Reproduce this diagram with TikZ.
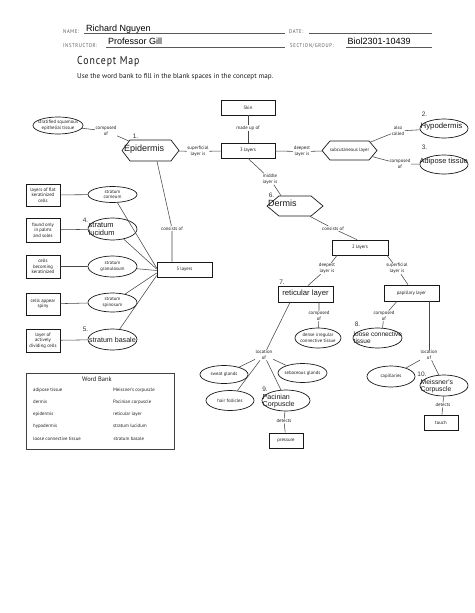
\documentclass[tikz,border=0pt]{standalone}
\usepackage{fontspec}
\setmainfont{PT Sans}
\newfontfamily\ansfont{Liberation Sans}
\newfontfamily\hdrfont[LetterSpace=12,FakeStretch=0.85]{PT Sans}
\newfontfamily\titlefont[LetterSpace=8,FakeStretch=0.85]{PT Sans}
\usetikzlibrary{shapes.geometric,shapes.symbols,calc}
\begin{document}
\begin{tikzpicture}[x=1pt,y=-1pt,
  lbl/.style={font=\fontsize{4.8}{5.6}\selectfont, text=black!88, align=center, inner sep=0.6pt},
  bx/.style={draw=black!90, line width=0.7pt, font=\fontsize{4.8}{5.6}\selectfont, text=black!90, align=center, inner sep=0.5pt},
  ell/.style={ellipse, draw=black!90, line width=0.7pt, inner sep=0pt},
  hexa/.style={signal, signal to=west and east, draw=black!90, line width=0.7pt, inner sep=0pt},
  ans/.style={font=\ansfont\fontsize{7.2}{7.6}\selectfont, inner sep=0pt, align=left, text=black!90},
  num/.style={font=\ansfont\fontsize{6.5}{7}\selectfont, inner sep=0pt, text=black!80},
  hdr/.style={font=\hdrfont\fontsize{5.5}{6}\selectfont, text=black!65, inner sep=0pt, anchor=base west},
  typed/.style={font=\ansfont\fontsize{9}{10}\selectfont, inner sep=0pt, anchor=base west},
  cn/.style={draw=black!72, line width=0.55pt},
  wbt/.style={font=\fontsize{4.8}{5.6}\selectfont, text=black!88, inner sep=0pt, anchor=base west}
]
\useasboundingbox (0,0) rectangle (474,613);
\fill[white] (0,0) rectangle (474,613);

% ---------- header ----------
\node[hdr] (hname) at (63,33.5) {NAME:};
\node[typed] (tname) at (86,31.5) {Richard Nguyen};
\draw[black!65,line width=0.5pt] (84,33.7) -- (285,33.7);
\node[hdr] (hdate) at (289,33.5) {DATE:};
\draw[black!65,line width=0.5pt] (309,33.7) -- (432,33.7);
\node[hdr] (hinst) at (63,47) {INSTRUCTOR:};
\node[typed] (tinst) at (108,44.5) {Professor Gill};
\draw[black!65,line width=0.5pt] (106,47.3) -- (285,47.3);
\node[hdr] (hsect) at (290,47) {SECTION/GROUP:};
\node[typed] (tsect) at (347.5,44.5) {Biol2301-10439};
\draw[black!65,line width=0.5pt] (346,47.3) -- (432,47.3);
\node[font=\titlefont\fontsize{11.5}{12}\selectfont, text=black!90, inner sep=0pt, anchor=base west] (title) at (77,64.5) {Concept Map};
\node[font=\fontsize{7.1}{8}\selectfont, text=black!90, inner sep=0pt, anchor=base west] (instr) at (77,78.5) {Use the word bank to fill in the blank spaces in the concept map.};

% ---------- top centre ----------
\node[bx, minimum width=54pt, minimum height=15pt] (skin) at (248,107.5) {Skin};
\node[lbl] (madeup) at (248,128) {made up of};
\node[bx, minimum width=54pt, minimum height=15pt] (lay3) at (248,150.5) {3 layers};

% ---------- epidermis ----------
\node[ell, minimum width=50pt, minimum height=17pt] (strat) at (58,125.5) {};
\node[lbl] (stratT) at (strat) {stratified squamous\\epithelial tissue};
\node[lbl] (compEpi) at (106,131) {composed\\of};
\node[hexa, signal pointer angle=105, minimum width=57pt, minimum height=21pt] (epi) at (150.5,150.5) {};
\node[ans, font=\ansfont\fontsize{9}{9.5}\selectfont, anchor=base west] (epiT) at (124,151) {Epidermis};
\node[num] (n1) at (135.5,136) {1.};
\node[lbl] (superf) at (198,151.5) {superficial\\layer is};

% ---------- subcutaneous ----------
\node[lbl] (deep) at (302,151.5) {deepest\\layer is};
\node[hexa, signal pointer angle=100, minimum width=55pt, minimum height=19pt] (subq) at (349.5,150.5) {};
\node[lbl] (subqT) at (subq) {subcutaneous layer};
\node[lbl] (also) at (398,131) {also\\called};
\node[ell, minimum width=48pt, minimum height=19pt] (hypo) at (444,128.5) {};
\node[ans, font=\ansfont\fontsize{7.8}{8}\selectfont, anchor=base west] (hypoT) at (420.5,128.3) {Hypodermis};
\node[num] (n2) at (424.5,114.5) {2.};
\node[lbl] (compAd) at (400,164) {composed\\of};
\node[ell, minimum width=48pt, minimum height=19pt] (adip) at (444,164.5) {};
\node[ans, font=\ansfont\fontsize{7.4}{8}\selectfont, anchor=base west] (adipT) at (419.5,163.3) {Adipose tissue};
\node[num] (n3) at (424.5,147.5) {3.};

% ---------- dermis ----------
\node[lbl] (middle) at (270,179) {middle\\layer is};
\node[hexa, signal pointer angle=80, minimum width=56pt, minimum height=20pt] (derm) at (295,206) {};
\node[ans, font=\ansfont\fontsize{9}{9.5}\selectfont, anchor=base west] (dermT) at (268,206.5) {Dermis};
\node[num] (n6) at (271.5,195) {6.};
\node[lbl] (consD) at (333,228.5) {consists of};
\node[bx, minimum width=56pt, minimum height=15pt] (lay2) at (360,247.5) {2 layers};
\node[lbl] (deep2) at (327,268.5) {deepest\\layer is};
\node[lbl] (sup2) at (397,268.5) {superficial\\layer is};
\node[bx, line width=0.9pt, minimum width=55pt, minimum height=16pt, font=\ansfont\fontsize{7.7}{8}\selectfont] (ret) at (305.5,294) {reticular layer};
\node[num] (n7) at (282,282.5) {7.};
\node[bx, minimum width=55pt, minimum height=16pt] (pap) at (411.5,293) {papillary layer};
\node[lbl] (compR) at (319,316) {composed\\of};
\node[lbl] (compP) at (384,316) {composed\\of};
\node[ell, minimum width=46pt, minimum height=20pt] (dense) at (318,338) {};
\node[lbl] (denseT) at (dense) {dense irregular\\connective tissue};
\node[ell, minimum width=49pt, minimum height=20pt] (loose) at (377.5,338) {};
\node[ans, font=\ansfont\fontsize{6.5}{6.8}\selectfont, anchor=west] (looseT) at (353.5,337.5) {loose connective\\tissue};
\node[num] (n8) at (357.5,324.5) {8.};

% ---------- reticular branch ----------
\node[lbl] (locL) at (264,355) {location\\of};
\node[ell, minimum width=48pt, minimum height=18pt] (sweat) at (224,374.5) {};
\node[lbl] (sweatT) at (sweat) {sweat glands};
\node[ell, minimum width=49pt, minimum height=19pt] (seb) at (302.5,373) {};
\node[lbl] (sebT) at (seb) {sebaceous glands};
\node[ell, minimum width=48pt, minimum height=20pt] (hair) at (230,400.5) {};
\node[lbl] (hairT) at (hair) {hair follicles};
\node[ell, minimum width=48pt, minimum height=21pt] (pac) at (286,400.5) {};
\node[ans, font=\ansfont\fontsize{7.1}{7.6}\selectfont, anchor=west] (pacT) at (262.5,401) {Pacinian\\Corpuscle};
\node[num] (n9) at (265,389.5) {9.};
\node[lbl] (detP) at (284,421) {detects};
\node[bx, minimum width=34pt, minimum height=15pt] (press) at (286,440.5) {pressure};

% ---------- papillary branch ----------
\node[lbl] (locR) at (429,355) {location\\of};
\node[ell, minimum width=48pt, minimum height=21pt] (capil) at (391,376.5) {};
\node[lbl] (capilT) at (capil) {capillaries};
\node[ell, minimum width=48pt, minimum height=21pt] (meis) at (444,385.5) {};
\node[ans, font=\ansfont\fontsize{6.8}{7.3}\selectfont, anchor=west] (meisT) at (420.5,386) {Meissner's\\Corpuscle};
\node[num] (n10) at (422,374.5) {10.};
\node[lbl] (detM) at (443,405) {detects};
\node[bx, minimum width=34pt, minimum height=15pt] (touch) at (441,422.5) {touch};

% ---------- epidermis layers ----------
\node[lbl] (consE) at (172,228.5) {consists of};
\node[bx, minimum width=55pt, minimum height=15pt] (lay5) at (184.5,269.5) {5 layers};

\node[ell, minimum width=49pt, minimum height=16pt] (corn) at (112.5,194.5) {};
\node[lbl] (cornT) at (corn) {stratum\\corneum};
\node[ell, minimum width=49pt, minimum height=22pt] (lucid) at (112.5,229) {};
\node[ans, font=\ansfont\fontsize{7.5}{7.8}\selectfont, anchor=west] (lucidT) at (88.5,229) {stratum\\lucidum};
\node[num] (n4) at (85.5,220.5) {4.};
\node[ell, minimum width=49pt, minimum height=21pt] (gran) at (112.5,266.5) {};
\node[lbl] (granT) at (gran) {stratum\\granulosum};
\node[ell, minimum width=49pt, minimum height=19pt] (spin) at (112.5,302.5) {};
\node[lbl] (spinT) at (spin) {stratum\\spinosum};
\node[ell, minimum width=49pt, minimum height=21pt] (basal) at (112.5,339.5) {};
\node[ans, font=\ansfont\fontsize{7.1}{7.5}\selectfont, anchor=west] (basalT) at (89,339.5) {stratum basale};
\node[num] (n5) at (85.5,329.5) {5.};

\node[bx, minimum width=34pt, minimum height=22pt] (flat) at (43,195) {layers of flat\\keratinized\\cells};
\node[bx, minimum width=34pt, minimum height=24pt] (palms) at (43,230) {found only\\in palms\\and soles};
\node[bx, minimum width=34pt, minimum height=23pt] (kerat) at (43,266.5) {cells\\becoming\\keratinized};
\node[bx, minimum width=34pt, minimum height=22pt] (spiny) at (43,304) {cells appear\\spiny};
\node[bx, minimum width=34pt, minimum height=23pt] (divid) at (43,340.5) {layer of\\actively\\dividing cells};

% ---------- word bank ----------
\node[draw=black!75, line width=0.9pt, minimum width=148pt, minimum height=76pt, inner sep=0pt] (wb) at (100,411) {};
\node[font=\fontsize{6.5}{7}\selectfont, text=black!90, inner sep=0pt] (wbtitle) at (97,379.5) {Word Bank};
\node[wbt] (w1) at (33,391) {adipose tissue};
\node[wbt] (w2) at (33,403.3) {dermis};
\node[wbt] (w3) at (33,415) {epidermis};
\node[wbt] (w4) at (33,427.5) {hypodermis};
\node[wbt] (w5) at (33,440) {loose connective tissue};
\node[wbt] (w6) at (113,391) {Meissner's corpuscle};
\node[wbt] (w7) at (113,403.3) {Pacinian corpuscle};
\node[wbt] (w8) at (113,415) {reticular layer};
\node[wbt] (w9) at (113,427.5) {stratum lucidum};
\node[wbt] (w10) at (113.5,440) {stratum basale};

% ---------- connectors ----------
\path[cn] (skin) -- (madeup) (madeup) -- (lay3);
\path[cn] (strat) -- (compEpi) (compEpi) -- (epi);
\path[cn] (epi) -- (superf) (superf) -- (lay3);
\path[cn] (lay3) -- (deep) (deep) -- (subq);
\path[cn] (subq) -- (also) (also) -- (hypo);
\path[cn] (subq) -- (compAd) (compAd) -- (adip);
\path[cn] (lay3.south) -- (middle) (middle) -- ([xshift=-14pt]derm.north);
\path[cn] ([xshift=15pt]derm.south) -- (consD) (consD) -- ([xshift=-3pt]lay2.north);
\path[cn] ([xshift=-23pt]lay2.south) -- (deep2) (deep2) -- ([xshift=2.5pt]ret.north);
\path[cn] ([xshift=27pt]lay2.south) -- (sup2) (sup2) -- ([xshift=-3.5pt]pap.north);
\path[cn] ([xshift=13.5pt]ret.south) -- (compR) (compR) -- (dense);
\path[cn] ([xshift=-14.5pt]pap.south) -- (compP) (compP) -- ([xshift=5pt]loose.north);
\path[cn] ([xshift=-15.5pt]ret.south) -- (locL);
\path[cn] (locL) -- (sweat) (locL) -- (seb) (locL) -- (hair) (locL) -- (pac);
\path[cn] (pac) -- (detP) (detP) -- (press);
\path[cn] ([xshift=17.5pt]pap.south) -- (locR);
\path[cn] (locR) -- (capil) (locR) -- (meis);
\path[cn] (meis) -- (detM) (detM) -- (touch);
\path[cn] ([xshift=6.5pt]epi.south) -- (consE) (consE.south) -- (consE.south |- lay5.north);
\path[cn] (flat) -- (corn) (palms) -- (lucid) (kerat) -- (gran) (spiny) -- (spin) (divid) -- (basal);
\path[cn] (corn) -- ([yshift=1.5pt]lay5.west);
\path[cn] (lucid) -- ([yshift=0.5pt]lay5.west);
\path[cn] (gran) -- ([yshift=-1pt]lay5.west);
\path[cn] (spin) -- ([yshift=-3.5pt]lay5.west);
\path[cn] (basal) -- ([yshift=-6pt]lay5.west);
\end{tikzpicture}
\end{document}
